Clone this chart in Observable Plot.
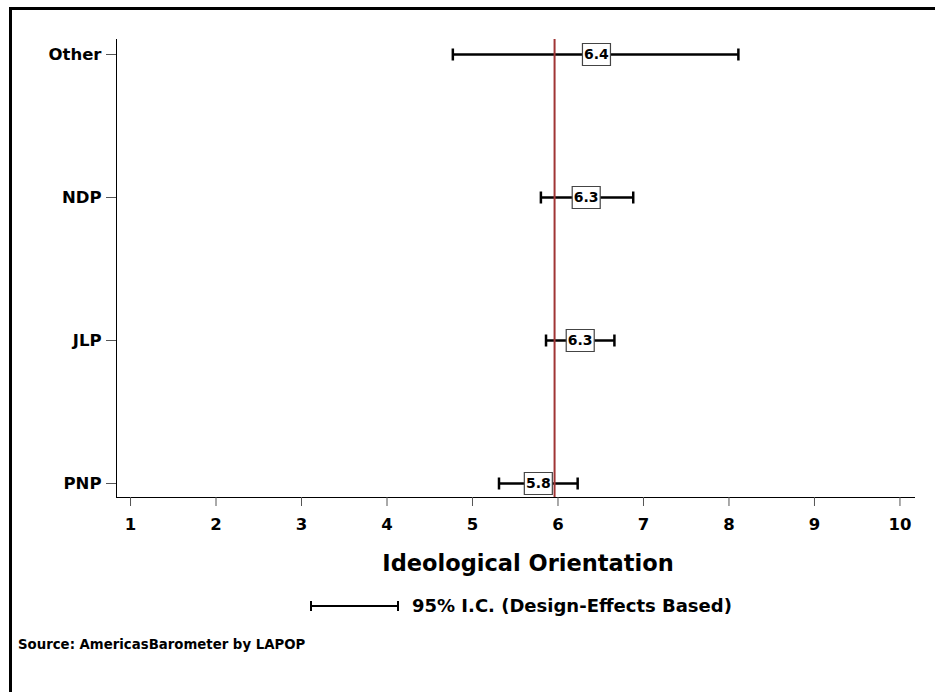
<!DOCTYPE html>
<html>
<head>
<meta charset="utf-8">
<script src="https://cdn.jsdelivr.net/npm/d3@7"></script>
<script src="https://cdn.jsdelivr.net/npm/@observablehq/plot@0.6"></script>
<style>
  html, body { margin: 0; padding: 0; background: #fff; }
  #page { position: relative; width: 935px; height: 692px; overflow: hidden; background: #fff;
          font-family: "DejaVu Sans", sans-serif; font-weight: bold; color: #000; }
  #frame { position: absolute; left: 9px; top: 7px; width: 940px; height: 700px;
           border-left: 3px solid #000; border-top: 3px solid #000; }
  #chart { position: absolute; left: 0; top: 0; }
  #xtitle { position: absolute; left: 0; width: 1056px; top: 550px; text-align: center; font-size: 22.5px; white-space: nowrap; }
  #legend { position: absolute; left: 308px; top: 595px; height: 22px; white-space: nowrap; }
  #legend svg { position: absolute; left: 0; top: 0; }
  #legend span { position: absolute; left: 104px; top: 0px; font-size: 18px; line-height: 22px; }
  #source { position: absolute; left: 18px; top: 637px; font-size: 13.3px; white-space: nowrap; }
  svg g[aria-label^="x-axis"] line, svg g[aria-label^="x-axis"] path,
  svg g[aria-label^="y-axis"] line, svg g[aria-label^="y-axis"] path { stroke: #555; }
</style>
</head>
<body>
<div id="page">
  <div id="frame"></div>
  <div id="chart"></div>
  <div id="xtitle">Ideological Orientation</div>
  <div id="legend">
    <svg width="100" height="22"><line x1="3" x2="90" y1="11" y2="11" stroke="#000" stroke-width="2"/><line x1="3" x2="3" y1="6" y2="16" stroke="#000" stroke-width="2"/><line x1="90" x2="90" y1="6" y2="16" stroke="#000" stroke-width="2"/></svg>
    <span>95% I.C. (Design-Effects Based)</span>
  </div>
  <div id="source">Source: AmericasBarometer by LAPOP</div>
</div>
<script>
const parties = ["Other", "NDP", "JLP", "PNP"];
const means = [6.45, 6.33, 6.26, 5.77];
const lows = [4.77, 5.80, 5.86, 5.31];
const highs = [8.11, 6.88, 6.66, 6.23];
const labels = ["6.4", "6.3", "6.3", "5.8"];
const referenceLine = [5.96];
const xTicks = [1, 2, 3, 4, 5, 6, 7, 8, 9, 10];

const data = parties.map((p, i) => ({party: p, mean: means[i], lo: lows[i], hi: highs[i], label: labels[i]}));

const boxSymbol = {
  draw(context) { context.rect(-14, -11, 28, 22); }
};
const capSymbol = {
  draw(context) { context.moveTo(0, -6); context.lineTo(0, 6); }
};

const chart = Plot.plot({
  width: 935,
  height: 545,
  marginLeft: 116,
  marginRight: 21,
  marginTop: 39,
  marginBottom: 48,
  style: {fontFamily: "DejaVu Sans, sans-serif", fontWeight: "bold", fontSize: "16.5px", color: "#000", background: "transparent", overflow: "visible"},
  x: {domain: [0.836, 10.17], ticks: xTicks, tickFormat: d => String(d), tickSize: 9, tickPadding: 12, line: true, label: null},
  y: {type: "point", domain: parties, padding: 0.1, tickSize: 10, tickPadding: 5, line: true, label: null},
  marks: [
    Plot.ruleY(data, {y: "party", x1: "lo", x2: "hi", stroke: "#000", strokeWidth: 2.5}),
    Plot.dot(data, {x: "lo", y: "party", symbol: capSymbol, fill: "none", stroke: "#000", strokeWidth: 2.5, r: 5}),
    Plot.dot(data, {x: "hi", y: "party", symbol: capSymbol, fill: "none", stroke: "#000", strokeWidth: 2.5, r: 5}),
    Plot.ruleX(referenceLine, {x: d => d, stroke: "#a03535", strokeWidth: 2}),
    Plot.dot(data, {x: "mean", y: "party", symbol: boxSymbol, fill: "#fff", stroke: "#444", strokeWidth: 1.2, r: 5}),
    Plot.text(data, {x: "mean", y: "party", text: "label", fontSize: 14, fontWeight: "bold", fill: "#000"})
  ]
});
document.getElementById("chart").appendChild(chart);
</script>
</body>
</html>
